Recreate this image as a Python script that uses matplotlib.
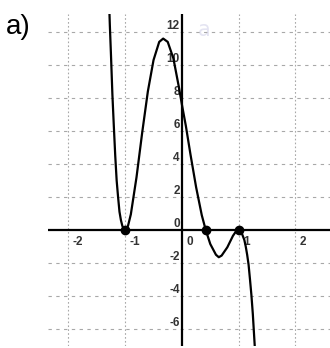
import matplotlib.pyplot as plt

# points
curve_x = [-1.29, -1.27, -1.25, -1.225, -1.2, -1.175, -1.15, -1.125, -1.1, -1.075,
           -1.05, -1.025, -1.0, -0.975, -0.95, -0.9, -0.8, -0.7,
           -0.6, -0.5, -0.4, -0.33, -0.25, -0.15, -0.05, 0.0, 0.07, 0.15, 0.25,
           0.35, 0.42, 0.5, 0.6, 0.65, 0.7, 0.8, 0.9, 0.95, 1.0, 1.05, 1.1, 1.125,
           1.15, 1.175, 1.2, 1.225, 1.25, 1.29]
curve_y = [14.5, 12.4, 10.6, 8.2, 6.3, 4.5, 3.0, 2.0, 1.1, 0.6,
           0.25, 0.06, 0.0, 0.07, 0.25, 0.95, 3.2, 5.9,
           8.4, 10.3, 11.4, 11.6, 11.4, 10.4, 8.6, 7.6, 6.3, 4.6, 2.6,
           0.9, 0.0, -0.85, -1.5, -1.65, -1.55, -1.05, -0.35, -0.1, 0.0, -0.15, -0.6, -1.0,
           -1.5, -2.1, -3.0, -3.95, -5.1, -7.4]

# marked zeros
roots = [-1.0, 0.42, 1.0]

x_ticks = [-2, -1, 0, 1, 2]
x_grid = [-2, -1, 1, 2]
y_ticks = [12, 10, 8, 6, 4, 2, 0, -2, -4, -6]

fig = plt.figure(figsize=(3.3, 3.48), dpi=100)
ax = fig.add_axes([48 / 330, 2 / 348, 282 / 330, 332 / 348])
ax.set_xlim(-2.36, 2.61)
ax.set_ylim(-7.03, 13.09)
ax.axis("off")

for gx in x_grid:
    ax.axvline(gx, color="#a8a8a8", lw=0.8, ls=(0, (1.5, 2)), zorder=1)
for gy in y_ticks:
    if gy != 0:
        ax.axhline(gy, color="#a8a8a8", lw=0.8, ls=(0, (3, 4)), zorder=1)

ax.axhline(0, color="black", lw=1.6, zorder=2)
ax.axvline(0, color="black", lw=1.6, zorder=2)

for gy in y_ticks:
    ax.annotate(str(gy), (0, gy), xytext=(-1.5, 4), textcoords="offset points",
                ha="right", va="center", fontsize=8.5, fontweight="bold",
                color="#333333", family="Liberation Sans")
for gx in x_ticks:
    ax.annotate(str(gx), (gx, 0), xytext=(3, -9), textcoords="offset points",
                ha="left", va="center", fontsize=8.5, fontweight="bold",
                color="#333333", family="Liberation Sans")

ax.plot(curve_x, curve_y, color="black", lw=1.6, zorder=3, clip_on=True)
ax.plot(roots, [0] * len(roots), "o", color="black", ms=6, zorder=4)

ax.text(0.4, 12.1, "a", fontsize=15, color="#e4e4f2", ha="center", va="center", zorder=0)
fig.text(6 / 330, 1 - 27 / 348, "a)", fontsize=20, ha="left", va="center",
         family="Liberation Sans")

fig.savefig("out.png", dpi=100)
